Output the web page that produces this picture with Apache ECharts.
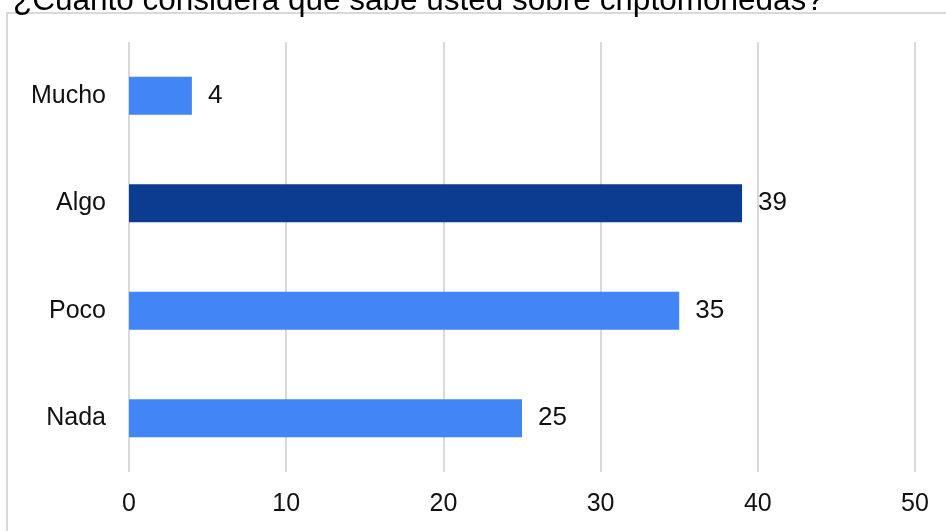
<!DOCTYPE html>
<html><head><meta charset="utf-8">
<script src="https://cdn.jsdelivr.net/npm/echarts@6/dist/echarts.min.js"></script>
<style>html,body{margin:0;padding:0;background:#fff}#c{width:946px;height:531px}</style>
</head><body><div id="c"></div>
<script>
const title = '¿Cuánto considera que sabe usted sobre criptomonedas?';
const categories = ['Mucho', 'Algo', 'Poco', 'Nada'];
const values = [4, 39, 35, 25];
const highlightIndex = 1;
const xTicks = [0, 10, 20, 30, 40, 50];

const chart = echarts.init(document.getElementById('c'));
chart.setOption({
  animation: false,
  backgroundColor: '#fff',
  title: {
    text: title, left: 8, top: -20,
    textStyle: {fontFamily: 'Liberation Sans', fontSize: 31.5, fontWeight: 'normal', color: '#000'}
  },
  graphic: [{
    type: 'rect', shape: {x: 7, y: 13, width: 1000, height: 600},
    style: {fill: 'none', stroke: '#d9d9d9', lineWidth: 2}, z: -1
  }],
  grid: {left: 129, right: 31, top: 42, bottom: 59},
  xAxis: {
    type: 'value', min: xTicks[0], max: xTicks[xTicks.length - 1], interval: 10,
    axisLine: {show: false}, axisTick: {show: false},
    splitLine: {lineStyle: {color: '#d9d9d9', width: 2}},
    axisLabel: {margin: 20, fontFamily: 'Liberation Sans', fontSize: 25, color: '#111'}
  },
  yAxis: {
    type: 'category', data: categories, inverse: true,
    axisLine: {show: false}, axisTick: {show: false},
    axisLabel: {margin: 23, fontFamily: 'Liberation Sans', fontSize: 25, color: '#111'}
  },
  series: [{
    type: 'bar', barWidth: 38,
    data: values.map((v, i) => ({value: v, itemStyle: {color: i === highlightIndex ? '#0b3c8f' : '#4285f4'}})),
    label: {show: true, position: 'right', distance: 16, fontFamily: 'Liberation Sans', fontSize: 26, color: '#111'}
  }]
});
</script></body></html>
